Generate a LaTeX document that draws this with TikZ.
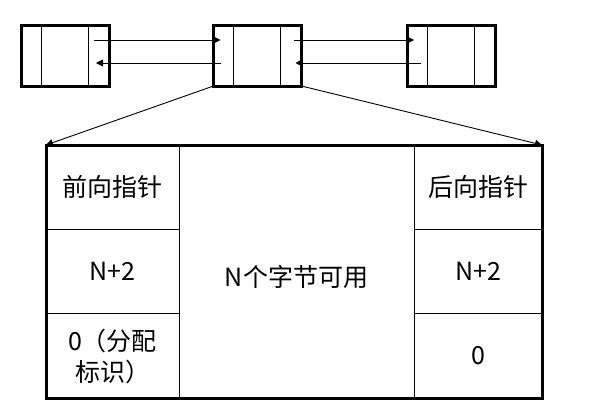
\documentclass[tikz,border=0pt]{standalone}
\usepackage{fontspec}
\setmainfont{Noto Sans CJK SC}
\usetikzlibrary{arrows.meta}

\begin{document}
\begin{tikzpicture}[x=1pt,y=-1pt,
    blk/.style={draw,line width=3pt,minimum width=88pt,minimum height=61pt,inner sep=0pt,outer sep=0pt},
    ptr/.style={-{Triangle[length=7pt,width=7pt]},line width=0.9pt},
    cell/.style={draw,line width=0.9pt,inner sep=0pt,outer sep=0pt,minimum height=84.3pt,align=center,font=\fontsize{25}{31}\selectfont}]

  \useasboundingbox (0,0) rectangle (606,418);

  \node[blk] (prev) at (65,55.5) {}; % previous block
  \node[blk] (cur) at (257.5,55.5) {}; % current block
  \node[blk] (next) at (451,55.5) {}; % next block

  \foreach \b in {prev,cur,next}
  {
    \draw[line width=0.9pt] ([xshift=20pt]\b.north west) -- ([xshift=20pt]\b.south west);
    \draw[line width=0.9pt] ([xshift=-21pt]\b.north east) -- ([xshift=-21pt]\b.south east);
  }

  \draw[ptr] ([shift={(-15,-15.5)}]prev.east) -- ([shift={(7,-15.5)}]cur.west); % forward
  \draw[ptr] ([shift={(7,7.5)}]cur.west) -- ([shift={(-13,7.5)}]prev.east); % backward
  \draw[ptr] ([shift={(-8,-15.5)}]cur.east) -- ([shift={(7,-15.5)}]next.west);
  \draw[ptr] ([shift={(14,7.5)}]next.west) -- ([shift={(-6,7.5)}]cur.east);

  \node[cell,minimum width=133pt] (fwd) at (112.5,187) {前向指针};
  \node[cell,minimum width=133pt] (fsize) at (112.5,271.5) {N+2};
  \node[cell,minimum width=133pt] (ftag) at (112.5,356) {0（分配\\标识）};
  \node[cell,minimum width=235pt,minimum height=253pt,text height=32pt] (data) at (296.5,271.5) {N个字节可用};
  \node[cell,minimum width=128pt] (bwd) at (478,187) {后向指针};
  \node[cell,minimum width=128pt] (bsize) at (478,271.5) {N+2};
  \node[cell,minimum width=128pt] (btag) at (478,356) {0};

  \node[draw,line width=3pt,minimum width=496pt,minimum height=253pt,inner sep=0pt,outer sep=0pt] (chunk) at (294,271.5) {}; % whole chunk

  \draw[ptr] (cur.south west) -- (chunk.north west);
  \draw[ptr] (cur.south east) -- (chunk.north east);

\end{tikzpicture}
\end{document}
